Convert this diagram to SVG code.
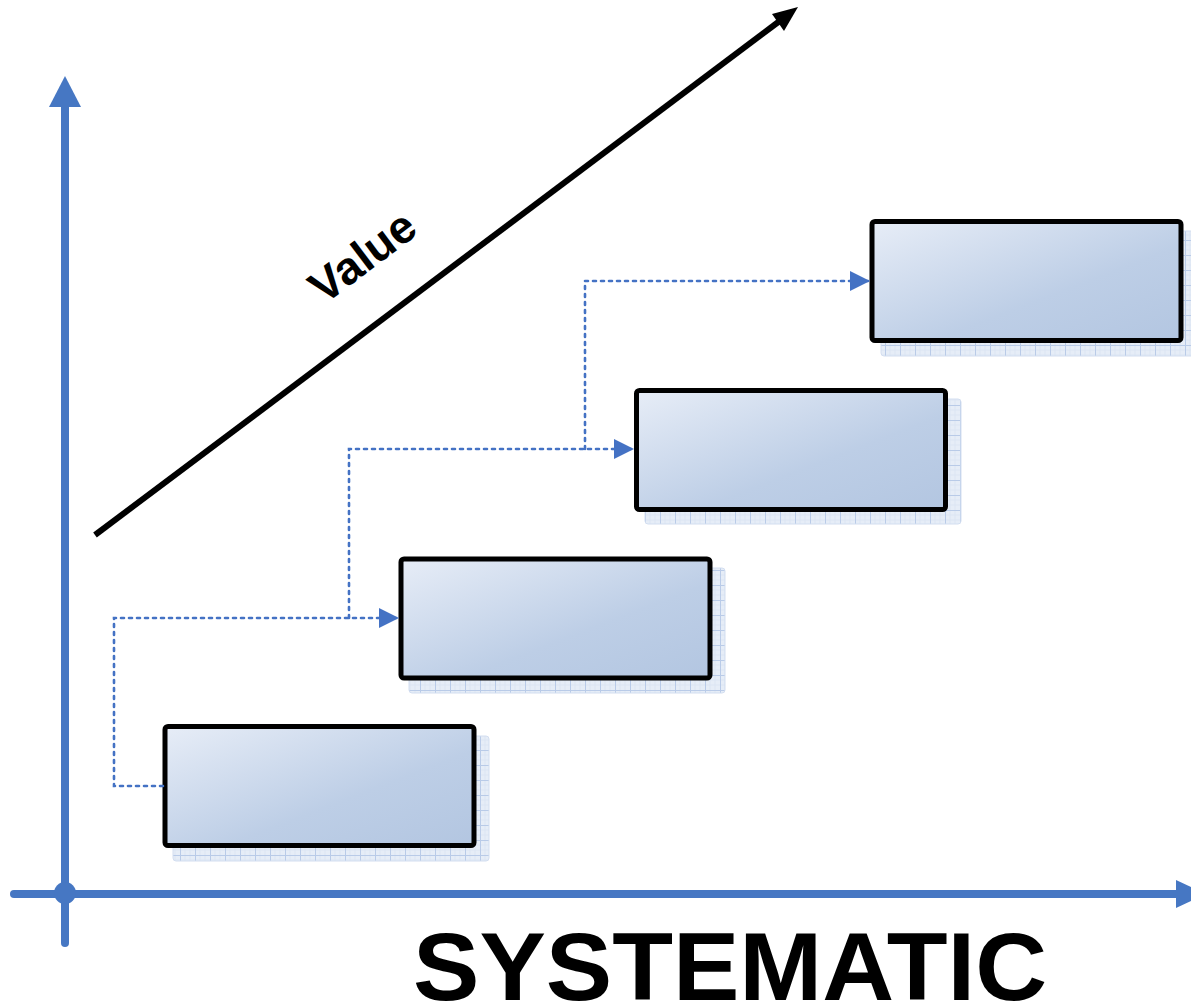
<svg xmlns="http://www.w3.org/2000/svg" width="1191" height="1008" viewBox="0 0 1191 1008">
<style>
.box{fill:url(#boxgrad);stroke:#000;stroke-width:5}
.shadow{fill:url(#grid);stroke:#d3def0;stroke-width:1}
.axis{stroke:#4677C3;stroke-width:8;fill:none;stroke-linecap:round}
.axhead{fill:#4677C3}
.conn{stroke:#4472C4;stroke-width:2.6;fill:none;stroke-dasharray:3 5;stroke-linecap:round}
.label{font-family:"Liberation Sans",Arial,sans-serif;font-weight:bold;fill:#000}
</style>
<defs>
<linearGradient id="boxgrad" x1="0" y1="0" x2="1" y2="1">
<stop offset="0" stop-color="#e7edf7"/>
<stop offset="0.6" stop-color="#bdcee6"/>
<stop offset="1" stop-color="#b3c6e1"/>
</linearGradient>
<pattern id="grid" width="15" height="15" patternUnits="userSpaceOnUse">
<rect width="15" height="15" fill="#e6edf7"/>
<path d="M0,5H15M0,10H15M5,0V15M10,0V15" stroke="#d6e1f1" stroke-width="0.6"/>
<path d="M0,0.5H15M0.5,0V15" stroke="#b9cbe8" stroke-width="1"/>
</pattern>
<marker id="arr" viewBox="0 0 20 20" refX="20" refY="10" markerWidth="20" markerHeight="20" markerUnits="userSpaceOnUse" orient="auto">
<path d="M0,0L20,10L0,20Z" fill="#4472C4"/>
</marker>
</defs>
<rect width="1191" height="1008" fill="#fff"/>

<g id="axes">
<line class="axis" x1="65" y1="104" x2="65" y2="943"/>
<polygon class="axhead" points="49,107 65,76 81,107"/>
<line class="axis" x1="14" y1="894" x2="1178" y2="894"/>
<polygon class="axhead" points="1176,880 1206,894 1176,908"/>
<circle cx="65" cy="893" r="11" fill="#4677C3"/>
</g>

<g id="value-arrow">
<line x1="95" y1="535" x2="781" y2="20" stroke="#000" stroke-width="6"/>
<polygon points="798,7 772,14 784,31" fill="#000"/>
<text class="label" x="372" y="269" font-size="46" text-anchor="middle" transform="rotate(-37 372 269)">Value</text>
</g>

<g id="node1">
<rect class="shadow" x="173" y="736" width="316" height="125" rx="3"/>
<rect class="box" x="165" y="726.5" width="309" height="119" rx="3"/>
</g>
<g id="node2">
<rect class="shadow" x="409" y="568" width="316" height="125" rx="3"/>
<rect class="box" x="401" y="559" width="309" height="119" rx="3"/>
</g>
<g id="node3">
<rect class="shadow" x="645" y="399" width="316" height="125" rx="3"/>
<rect class="box" x="636.5" y="390.5" width="309" height="119" rx="3"/>
</g>
<g id="node4">
<rect class="shadow" x="881" y="231" width="316" height="125" rx="3"/>
<rect class="box" x="872" y="221.5" width="309" height="119" rx="3"/>
</g>

<g id="connectors">
<path class="conn" d="M163,786H114V618H399" marker-end="url(#arr)"/>
<path class="conn" d="M349,618V449H634" marker-end="url(#arr)"/>
<path class="conn" d="M585,449V281H870" marker-end="url(#arr)"/>
</g>

<text class="label" x="413" y="1000" font-size="96" textLength="634" lengthAdjust="spacingAndGlyphs">SYSTEMATIC</text>
</svg>
